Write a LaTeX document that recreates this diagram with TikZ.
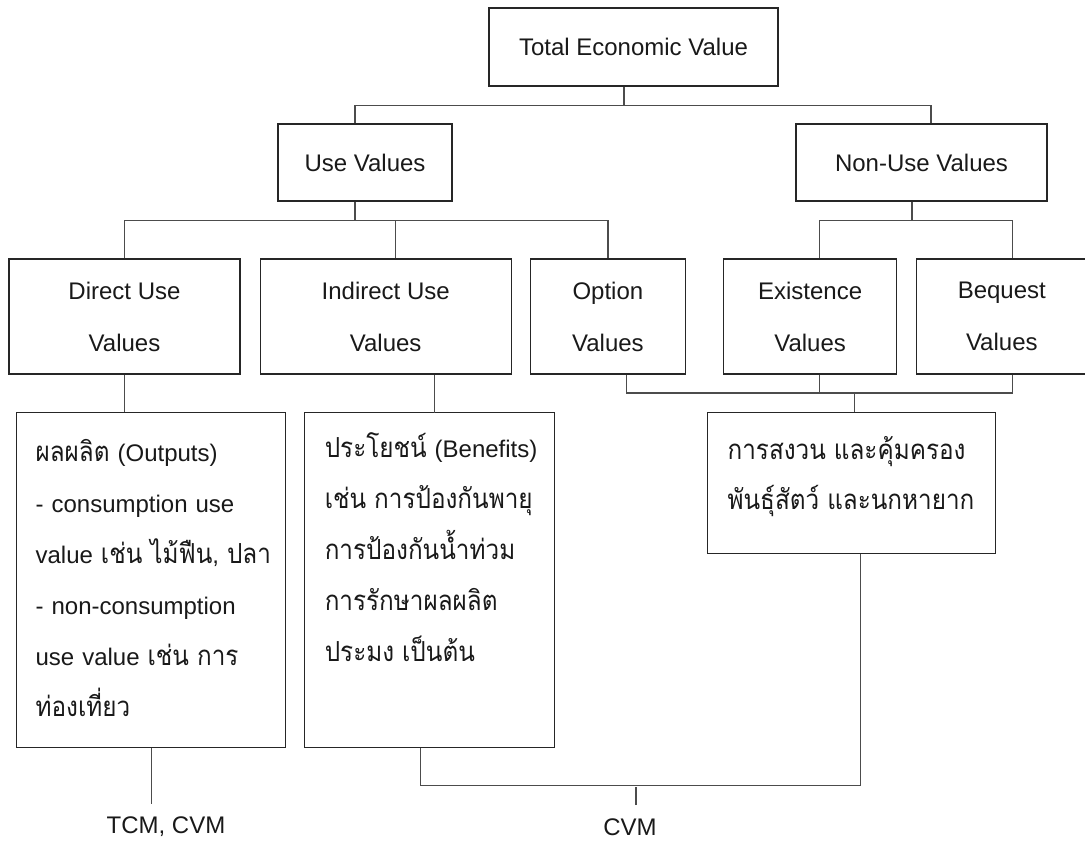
\documentclass[tikz,border=0pt]{standalone}
\usepackage{fontspec}
\setmainfont{Liberation Sans}
\newfontfamily\thaifont[Script=Thai, Scale=1.15, FakeStretch=0.88]{Loma}
\usetikzlibrary{positioning}

\begin{document}
\begin{tikzpicture}[x=0.5pt, y=-0.5pt,
    box/.style={draw=black!85, line width=0.6pt, text=black!90, font=\fontsize{12}{26}\selectfont},
    note/.style={box, align=left, inner ysep=0pt, font=\fontsize{12}{25.5}\selectfont},
    link/.style={draw=black!70, line width=0.6pt},
    method/.style={text=black!90, inner sep=6.5pt, font=\fontsize{12}{14}\selectfont}]
    \useasboundingbox (0,0) rectangle (1085,842);

    \node[box, minimum width=144.5pt, minimum height=39pt] (tev) at (633.5,47) {Total Economic Value};
    \node[box, minimum width=87pt, minimum height=38.5pt] (use) at (365,162.5) {Use Values};
    \node[box, minimum width=125.5pt, minimum height=38.5pt] (nonuse) at (921.5,162.5) {Non-Use Values};

    \node[box, align=center, minimum width=115.5pt, minimum height=57.5pt] (direct) at (124.5,316.5) {Direct Use\\Values};
    \node[box, align=center, minimum width=125.5pt, minimum height=57.5pt, right=9.5pt of direct] (indirect) {Indirect Use\\Values};
    \node[box, align=center, minimum width=77.5pt, minimum height=57.5pt, right=9pt of indirect] (option) {Option\\Values};
    \node[box, align=center, minimum width=86.5pt, minimum height=57.5pt, right=18.5pt of option] (exist) {Existence\\Values};
    \node[box, align=center, minimum width=85pt, minimum height=57.5pt, right=9.5pt of exist] (bequest) {Bequest\\Values};

    \node[note, text width=115.5pt, inner xsep=9.5pt, text height=24.5pt, text depth=143pt, anchor=north west] (outputs) at (16,412) {
        \mbox{{\thaifont ผลผลิต} (Outputs)}\\
        \mbox{- consumption use}\\
        \mbox{value {\thaifont เช่น ไม้ฟืน}, {\thaifont ปลา}}\\
        \mbox{- non-consumption}\\
        \mbox{use value {\thaifont เช่น การ}}\\
        {\thaifont ท่องเที่ยว}
    };
    \node[note, text width=105pt, inner xsep=10pt, text height=22.5pt, text depth=145pt, right=9pt of outputs] (benefits) {
        \mbox{{\thaifont ประโยชน์} (Benefits)}\\
        \mbox{\thaifont เช่น การป้องกันพายุ}\\
        \mbox{\thaifont การป้องกันน้ำท่วม}\\
        \mbox{\thaifont การรักษาผลผลิต}\\
        \mbox{\thaifont ประมง เป็นต้น}
    };
    \node[note, text width=124pt, inner xsep=10pt, text height=23.5pt, text depth=47pt, anchor=north west, font=\fontsize{12}{25}\selectfont] (conserve) at (707,412) {
        \mbox{\thaifont การสงวน และคุ้มครอง}\\
        \mbox{\thaifont พันธุ์สัตว์ และนกหายาก}
    };

    \node[method] (tcm) at (166,827) {TCM, CVM};
    \node[method] (cvm) at (630,827) {CVM};

    \draw[link] ([xshift=-4.75pt]tev.south) -- ++(0,19) coordinate (j0);
    \draw[link] ([xshift=-5pt]use.north) |- (j0) -| ([xshift=4.75pt]nonuse.north);

    \draw[link] ([xshift=-5pt]use.south) -- ++(0,19) coordinate (j1);
    \draw[link] (direct.north) |- (j1) -| ([xshift=4.75pt]indirect.north);
    \draw[link] (j1) -| (option.north);

    \draw[link] ([xshift=-4.75pt]nonuse.south) -- ++(0,19) coordinate (j2);
    \draw[link] ([xshift=4.75pt]exist.north) |- (j2) -| ([xshift=5.25pt]bequest.north);

    \draw[link] (direct.south) -- (direct.south |- outputs.north);
    \draw[link] ([xshift=24.25pt]indirect.south) -- ++(0,38);

    \draw[link] ([xshift=1.5pt]conserve.north) -- ++(0,-19) coordinate (j3);
    \draw[link] ([xshift=9.25pt]option.south) |- (j3) -| ([xshift=5.25pt]bequest.south);
    \draw[link] ([xshift=4.75pt]exist.south) -- ++(0,19);

    \draw[link] (outputs.south) -- (outputs.south |- tcm.north);
    \draw[link] ([xshift=-4.5pt]benefits.south) -- ++(0,37) -| ([xshift=4.5pt]conserve.south);
    \draw[link] ([xshift=3pt]cvm.north) -- ++(0,-18);
\end{tikzpicture}
\end{document}
